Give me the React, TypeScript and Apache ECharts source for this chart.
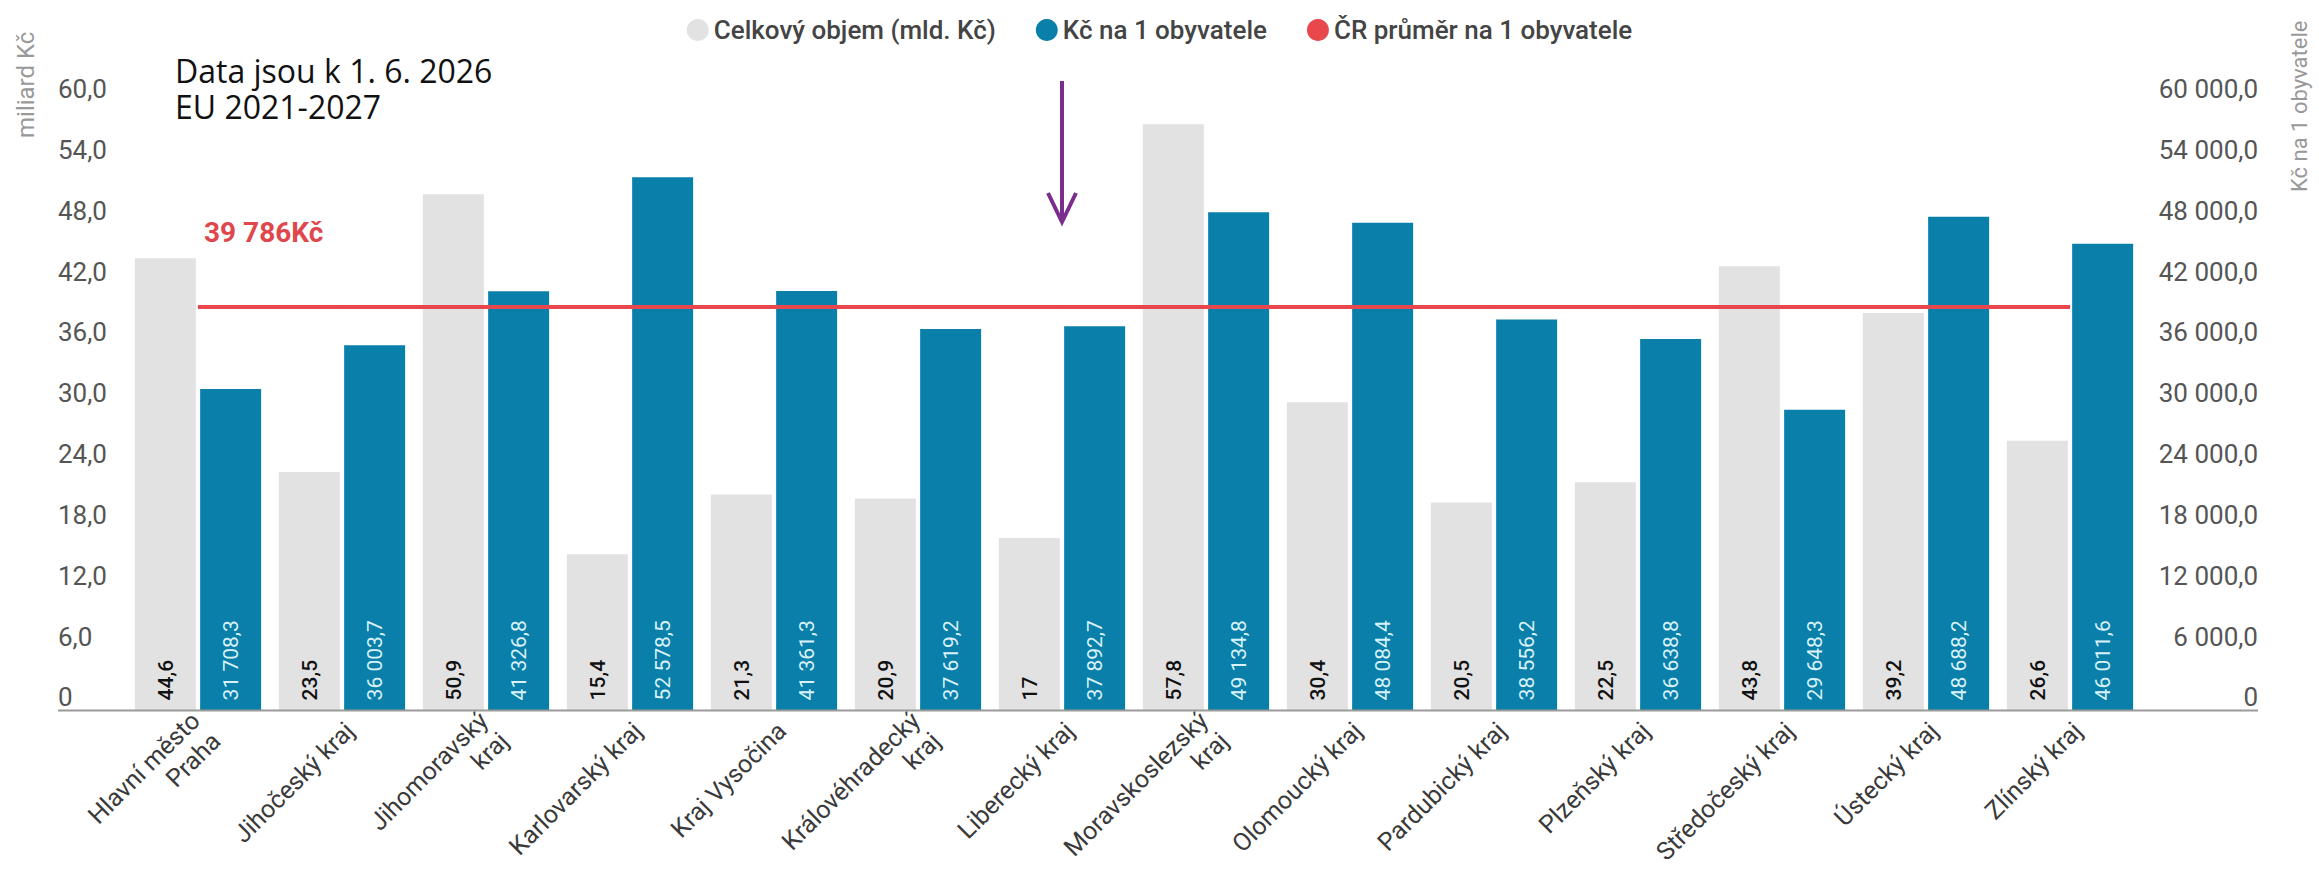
import React, { useEffect, useRef } from "react";
import * as echarts from "echarts";

const categories = [
  "Hlavní město\nPraha",
  "Jihočeský kraj",
  "Jihomoravský\nkraj",
  "Karlovarský kraj",
  "Kraj Vysočina",
  "Královéhradecký\nkraj",
  "Liberecký kraj",
  "Moravskoslezský\nkraj",
  "Olomoucký kraj",
  "Pardubický kraj",
  "Plzeňský kraj",
  "Středočeský kraj",
  "Ústecký kraj",
  "Zlínský kraj",
];

const totalVolume = [44.6, 23.5, 50.9, 15.4, 21.3, 20.9, 17, 57.8, 30.4, 20.5, 22.5, 43.8, 39.2, 26.6];

const perCapita = [
  31708.3, 36003.7, 41326.8, 52578.5, 41361.3, 37619.2, 37892.7, 49134.8, 48084.4, 38556.2,
  36638.8, 29648.3, 48688.2, 46011.6,
];

const crAverage = 39786;

const seriesNames = ["Celkový objem (mld. Kč)", "Kč na 1 obyvatele", "ČR průměr na 1 obyvatele"];
const leftAxisTitle = "miliard Kč";
const rightAxisTitle = "Kč na 1 obyvatele";
const noteLines = ["Data jsou k 1. 6. 2026", "EU 2021-2027"];
const arrowCategory = "Liberecký kraj";

function groupThousands(v: number, decimals: number): string {
  const s = v.toFixed(decimals);
  const [i, d] = s.split(".");
  const ii = i.replace(/\B(?=(\d{3})+(?!\d))/g, " ");
  return d !== undefined ? ii + "," + d : ii;
}

const FONT = "Roboto, 'Noto Sans', sans-serif";
const BAR_WIDTH = 61;
const BAR_GAP_PX = 4;

export default function App() {
  const ref = useRef<HTMLDivElement>(null);

  useEffect(() => {
    document.body.style.margin = "0";
    document.body.style.overflow = "hidden";
    document.documentElement.style.overflow = "hidden";
    if (!ref.current) return;
    const chart = echarts.init(ref.current, undefined, { renderer: "svg" });

    const gridLeft = 126;
    const gridRight = 177;
    const gridTop = 102;
    const gridBottom = 166;
    const half = (BAR_WIDTH + BAR_GAP_PX) / 2;

    chart.setOption({
      animation: false,
      backgroundColor: "#ffffff",
      legend: {
        top: 12,
        left: "center",
        icon: "circle",
        itemWidth: 22,
        itemHeight: 22,
        itemGap: 40,
        textStyle: { fontFamily: FONT, fontSize: 26, fontWeight: 500, color: "#444" },
        data: [
          { name: seriesNames[0], itemStyle: { color: "#e2e2e2" } },
          { name: seriesNames[1], itemStyle: { color: "#0a7fa9" } },
          { name: seriesNames[2], itemStyle: { color: "#e8474c" } },
        ],
      },
      grid: { left: gridLeft, right: gridRight, top: gridTop, bottom: gridBottom, containLabel: false },
      xAxis: {
        type: "category",
        data: categories,
        axisLine: { show: false },
        axisTick: { show: false },
        axisLabel: {
          interval: 0,
          rotate: 45,
          margin: 24,
          fontFamily: FONT,
          fontSize: 25,
          color: "#3a3a3a",
          lineHeight: 29,
          padding: [18, -11, 0, 0],
        },
      },
      yAxis: [
        {
          type: "value",
          min: 0,
          max: 60,
          interval: 6,
          splitLine: { show: false },
          axisLine: { show: false },
          axisTick: { show: false },
          axisLabel: {
            align: "left",
            margin: 68,
            verticalAlign: "bottom",
            fontFamily: FONT,
            fontSize: 26,
            color: "#555",
            formatter: (v: number) => (v === 0 ? "0" : v.toFixed(1).replace(".", ",")),
          },
        },
        {
          type: "value",
          min: 0,
          max: 60000,
          interval: 6000,
          position: "right",
          splitLine: { show: false },
          axisLine: { show: false },
          axisTick: { show: false },
          axisLabel: {
            align: "right",
            margin: 116,
            verticalAlign: "bottom",
            fontFamily: FONT,
            fontSize: 26,
            color: "#555",
            formatter: (v: number) => (v === 0 ? "0" : groupThousands(v, 1)),
          },
        },
      ],
      series: [
        {
          name: seriesNames[0],
          type: "bar",
          yAxisIndex: 0,
          data: totalVolume,
          barWidth: BAR_WIDTH,
          barGap: "7%",
          itemStyle: { color: "#e2e2e2" },
        },
        {
          name: seriesNames[1],
          type: "bar",
          yAxisIndex: 1,
          data: perCapita,
          barWidth: BAR_WIDTH,
          barGap: "7%",
          itemStyle: { color: "#0a7fa9" },
        },
        {
          name: seriesNames[2],
          type: "line",
          yAxisIndex: 1,
          symbol: "circle",
          symbolSize: 1,
          showSymbol: true,
          z: 5,
          lineStyle: { color: "#e8474c", width: 4 },
          itemStyle: { color: "#e8474c" },
          label: { show: false },
          data: categories.map((_, i) =>
            i === 0
              ? {
                  value: crAverage,
                  label: {
                    show: true,
                    position: "top",
                    align: "left",
                    distance: 60,
                    offset: [6, 0],
                    fontFamily: FONT,
                    fontSize: 28,
                    fontWeight: "bold",
                    color: "#e0474c",
                    formatter: () => groupThousands(crAverage, 0) + "Kč",
                  },
                }
              : crAverage
          ),
        },
      ],
    });

    const ax = chart.convertToPixel({ xAxisIndex: 0 }, arrowCategory) as number;
    const baseY = chart.convertToPixel({ yAxisIndex: 0 }, 0) as number;

    const barLabels: any[] = [];
    categories.forEach((c, i) => {
      const cx = chart.convertToPixel({ xAxisIndex: 0 }, c) as number;
      barLabels.push({
        type: "text",
        x: cx - half,
        y: baseY - 10,
        rotation: Math.PI / 2,
        z: 20,
        style: {
          text: String(totalVolume[i]).replace(".", ","),
          fontFamily: FONT,
          fontSize: 21,
          fontWeight: 500,
          fill: "#111111",
          align: "left",
          verticalAlign: "middle",
        },
      });
      barLabels.push({
        type: "text",
        x: cx + half,
        y: baseY - 10,
        rotation: Math.PI / 2,
        z: 20,
        style: {
          text: groupThousands(perCapita[i], 1),
          fontFamily: FONT,
          fontSize: 21,
          fill: "#d8f1fa",
          align: "left",
          verticalAlign: "middle",
        },
      });
    });

    chart.setOption({
      graphic: [
        {
          type: "line",
          shape: { x1: 58, y1: baseY, x2: 2258, y2: baseY },
          style: { stroke: "#9a9a9a", lineWidth: 2 },
          z: 10,
        },
        ...barLabels,
        {
          type: "text",
          rotation: Math.PI / 2,
          x: 14,
          y: 138,
          style: {
            text: leftAxisTitle,
            fontFamily: FONT,
            fontSize: 24,
            fill: "#999",
            verticalAlign: "top",
            align: "left",
          },
        },
        {
          type: "text",
          rotation: Math.PI / 2,
          x: 2288,
          y: 192,
          style: {
            text: rightAxisTitle,
            fontFamily: FONT,
            fontSize: 22,
            fill: "#999",
            verticalAlign: "top",
            align: "left",
          },
        },
        {
          type: "text",
          x: 175,
          y: 53,
          style: {
            text: noteLines[0],
            fontFamily: "'Open Sans', sans-serif",
            fontSize: 32,
            lineHeight: 34,
            fill: "#111",
          },
        },
        {
          type: "text",
          x: 175,
          y: 89,
          style: {
            text: noteLines[1],
            fontFamily: "'Open Sans', sans-serif",
            fontSize: 32,
            lineHeight: 34,
            fill: "#111",
          },
        },
        {
          type: "line",
          shape: { x1: ax, y1: 81, x2: ax, y2: 220 },
          style: { stroke: "#7b2d8e", lineWidth: 4 },
        },
        {
          type: "polyline",
          shape: { points: [[ax - 14, 193], [ax, 222], [ax + 14, 193]] },
          style: { stroke: "#7b2d8e", lineWidth: 4, fill: "none" },
        },
      ],
    });

    return () => chart.dispose();
  }, []);

  return <div ref={ref} style={{ width: 2319, height: 891 }} />;
}
